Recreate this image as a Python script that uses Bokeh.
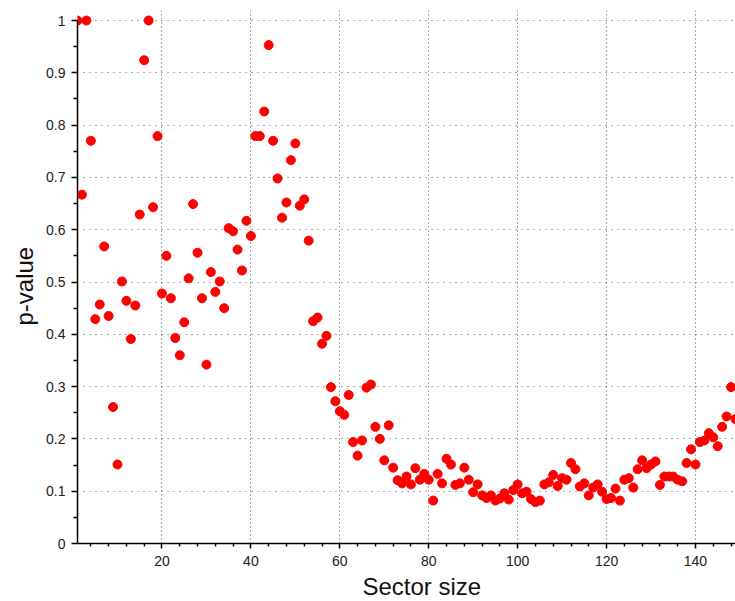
import numpy as np
from bokeh.plotting import figure
from bokeh.models import Range1d, Title, FixedTicker, NumeralTickFormatter
from bokeh.embed import file_html
from bokeh.resources import INLINE

sector_size = list(range(1, 150))
p_values = [
    1.0, 0.667, 1.0, 0.770, 0.429, 0.457, 0.568, 0.435, 0.261, 0.151,
    0.501, 0.464, 0.391, 0.455, 0.629, 0.924, 1.0, 0.643, 0.779, 0.478,
    0.550, 0.469, 0.393, 0.360, 0.423, 0.507, 0.649, 0.556, 0.469, 0.342,
    0.519, 0.481, 0.501, 0.450, 0.603, 0.597, 0.562, 0.522, 0.617, 0.588,
    0.779, 0.779, 0.826, 0.953, 0.770, 0.698, 0.623, 0.652, 0.733, 0.765,
    0.646, 0.658, 0.579, 0.425, 0.432, 0.382, 0.397, 0.299, 0.272, 0.253,
    0.246, 0.284, 0.194, 0.168, 0.197, 0.298, 0.304, 0.223, 0.200, 0.159,
    0.226, 0.145, 0.121, 0.115, 0.128, 0.113, 0.144, 0.122, 0.133, 0.122,
    0.082, 0.133, 0.115, 0.162, 0.151, 0.112, 0.115, 0.145, 0.122, 0.098,
    0.113, 0.092, 0.087, 0.092, 0.082, 0.086, 0.096, 0.084, 0.102, 0.113,
    0.096, 0.099, 0.085, 0.079, 0.082, 0.113, 0.117, 0.131, 0.110, 0.125,
    0.122, 0.154, 0.142, 0.109, 0.115, 0.092, 0.107, 0.113, 0.099, 0.085,
    0.087, 0.105, 0.082, 0.122, 0.125, 0.107, 0.142, 0.159, 0.144, 0.151,
    0.157, 0.112, 0.128, 0.128, 0.128, 0.122, 0.119, 0.154, 0.180, 0.151,
    0.194, 0.197, 0.211, 0.203, 0.186, 0.223, 0.243, 0.299, 0.238,
]
x_ticks = [20, 40, 60, 80, 100, 120, 140]
y_ticks = [0, 0.1, 0.2, 0.3, 0.4, 0.5, 0.6, 0.7, 0.8, 0.9, 1.0]
x_label = "Sector size"
y_label = "p-value"

FONT = "Liberation Sans"

p = figure(
    width=735, height=601,
    frame_width=658, frame_height=533,
    x_range=Range1d(1, 149), y_range=Range1d(0, 533 / 523),
    output_backend="svg", toolbar_location=None,
    min_border_left=77, min_border_right=0, min_border_top=10, min_border_bottom=58,
)
p.outline_line_color = None
p.background_fill_color = "white"
p.border_fill_color = "white"

p.scatter(sector_size, p_values, size=9, fill_color="#ff0000", line_color="#ff0000")

x_minor = [v for v in range(4, 149, 4) if v % 20 != 0]
y_minor = [round(0.05 + 0.1 * i, 2) for i in range(10)]
p.xaxis.ticker = FixedTicker(ticks=x_ticks, minor_ticks=x_minor)
p.yaxis.ticker = FixedTicker(ticks=y_ticks, minor_ticks=y_minor)
p.yaxis.formatter = NumeralTickFormatter(format="0.[0]")
p.yaxis.bounds = (0, 1)

for ax in (p.xaxis[0], p.yaxis[0]):
    ax.axis_line_color = "black"
    ax.axis_line_width = 1.5
    ax.major_tick_line_color = "black"
    ax.major_tick_line_width = 1.5
    ax.minor_tick_line_color = "black"
    ax.minor_tick_line_width = 1.5
    ax.major_tick_in = 0
    ax.minor_tick_in = 0
    ax.major_label_text_font = FONT
    ax.major_label_text_font_size = "14px"
    ax.major_label_text_color = "#222222"
p.xaxis.major_tick_out = 5
p.xaxis.minor_tick_out = 3
p.xaxis.major_label_standoff = 7
p.yaxis.major_tick_out = 6
p.yaxis.minor_tick_out = 4
p.yaxis.major_label_standoff = 6

p.xgrid.grid_line_color = "#555555"
p.xgrid.grid_line_dash = "1 3"
p.ygrid.grid_line_color = "#555555"
p.ygrid.grid_line_dash = "1 5"

p.add_layout(Title(text=x_label, align="left", offset=285, standoff=5,
                   text_font=FONT, text_font_size="24px", text_font_style="normal",
                   text_color="#111111"), "below")
p.add_layout(Title(text=y_label, align="left", offset=218, standoff=12,
                   text_font=FONT, text_font_size="24px", text_font_style="normal",
                   text_color="#111111"), "left")

open("out.html", "w").write(file_html(p, INLINE))
